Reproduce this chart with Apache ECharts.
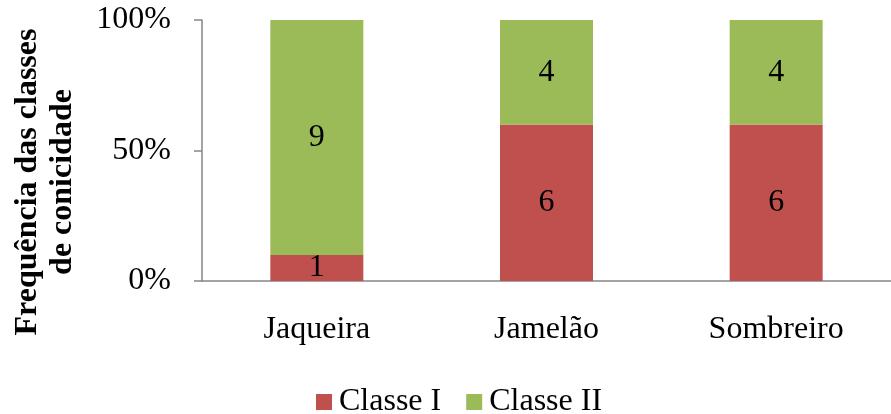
<!DOCTYPE html>
<html>
<head>
<meta charset="utf-8">
<script src="https://cdn.jsdelivr.net/npm/echarts@6/dist/echarts.min.js"></script>
<style>
html, body { margin: 0; padding: 0; background: #fff; }
#chart { width: 891px; height: 414px; }
</style>
</head>
<body>
<div id="chart"></div>
<script>
// categorias e contagens por classe
var categorias = ['Jaqueira', 'Jamelão', 'Sombreiro'];
var classeI = [1, 6, 6];
var classeII = [9, 4, 4];
var yTicks = [0, 50, 100];

var fonte = '"Liberation Serif", "Times New Roman", serif';

function pct(a, b) {
    return a.map(function (v, i) { return { value: v / (v + b[i]) * 100, count: v }; });
}

var chart = echarts.init(document.getElementById('chart'));
chart.setOption({
    animation: false,
    textStyle: { fontFamily: fonte },
    grid: { left: 202, right: -11, top: 20, bottom: 133, containLabel: false },
    legend: {
        top: 381,
        left: 311,
        itemWidth: 16,
        itemHeight: 16,
        itemGap: 25,
        icon: 'rect',
        textStyle: { fontFamily: fonte, fontSize: 32, color: '#000', padding: [0, 0, 0, 2] },
        data: ['Classe I', 'Classe II']
    },
    xAxis: {
        type: 'category',
        data: categorias,
        axisLine: { lineStyle: { color: '#868686', width: 1.5 } },
        axisTick: { length: 9, lineStyle: { color: '#868686', width: 1.5 } },
        axisLabel: { color: '#000', fontSize: 32, fontFamily: fonte, margin: 33 }
    },
    yAxis: {
        type: 'value',
        min: 0,
        max: 100,
        interval: 50,
        splitLine: { show: false },
        axisLine: { show: true, lineStyle: { color: '#868686', width: 1.5 } },
        axisTick: { show: true, length: 8, lineStyle: { color: '#868686', width: 1.5 } },
        axisLabel: {
            color: '#000', fontSize: 32, fontFamily: fonte, margin: 31,
            formatter: function (v) { return yTicks.indexOf(v) >= 0 ? v + '%' : ''; }
        }
    },
    graphic: [{
        type: 'text',
        x: 45,
        y: 182,
        rotation: Math.PI / 2,
        style: {
            text: 'Frequência das classes\nde conicidade',
            font: 'bold 32px ' + fonte,
            fill: '#000',
            align: 'center',
            verticalAlign: 'middle',
            lineHeight: 35
        }
    }],
    series: [{
        name: 'Classe I',
        type: 'bar',
        stack: 'total',
        barWidth: 93,
        itemStyle: { color: '#C0504D' },
        label: {
            show: true, position: 'inside', color: '#000', fontSize: 32, fontFamily: fonte,
            formatter: function (p) { return p.data.count; }
        },
        data: pct(classeI, classeII)
    }, {
        name: 'Classe II',
        type: 'bar',
        stack: 'total',
        barWidth: 93,
        itemStyle: { color: '#9BBB59' },
        label: {
            show: true, position: 'inside', color: '#000', fontSize: 32, fontFamily: fonte,
            formatter: function (p) { return p.data.count; }
        },
        data: pct(classeII, classeI)
    }]
});
</script>
</body>
</html>
